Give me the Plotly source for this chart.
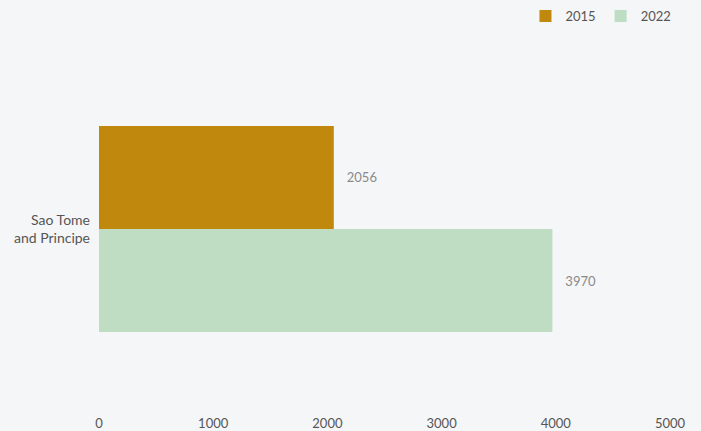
import plotly.graph_objects as go

categories = ["Sao Tome<br>and Principe"]
series_names = ["2015", "2022"]
values_2015 = [2056]
values_2022 = [3970]
x_ticks = [0, 1000, 2000, 3000, 4000, 5000]

colors = {"2015": "#C1880E", "2022": "#BEDDC2"}

fig = go.Figure()
for name, vals in zip(series_names, [values_2015, values_2022]):
    fig.add_trace(go.Bar(
        y=categories, x=vals, name=name, orientation="h",
        marker=dict(color=colors[name], line=dict(width=0)),
        text=vals, texttemplate="\u00a0\u00a0\u00a0%{x}", textposition="outside",
        textfont=dict(color="#8a8a8a", size=13, family="Lato"),
        cliponaxis=False,
    ))

fig.update_layout(
    width=701, height=431,
    paper_bgcolor="#F5F6F8", plot_bgcolor="#F5F6F8",
    barmode="group", bargap=0.437, bargroupgap=0,
    margin=dict(l=99, r=31, t=46, b=19),
    font=dict(family="Lato", size=13, color="#555"),
    showlegend=True,
    legend=dict(orientation="h", xref="container", yref="container",
                x=0.965, xanchor="right", y=0.963, yanchor="middle",
                traceorder="normal", font=dict(size=13, color="#555"),
                itemwidth=30, bgcolor="rgba(0,0,0,0)"),
    xaxis=dict(range=[0, 5000], tickvals=x_ticks, showgrid=False, zeroline=False,
               showline=False, ticks="", automargin=False, ticklabelstandoff=2,
               tickfont=dict(size=13, color="#555")),
    yaxis=dict(autorange="reversed", showgrid=False, zeroline=False, showline=False,
               ticks="", ticklabelstandoff=8, automargin=False,
               tickfont=dict(size=14, color="#555")),
)

fig.write_html("out.html", config={"displayModeBar": False},
               post_script="document.body.style.margin='0';document.body.style.padding='0';document.body.style.background='#F5F6F8';")
